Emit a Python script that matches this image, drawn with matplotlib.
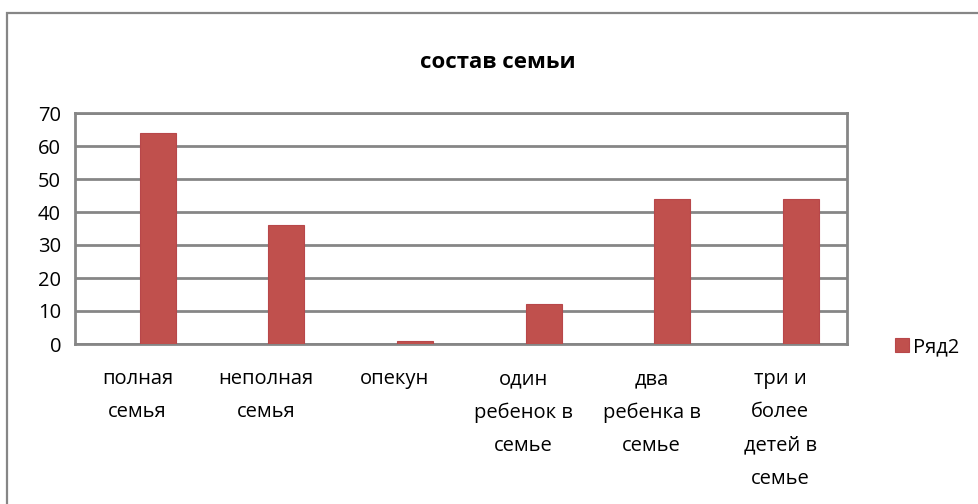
import matplotlib
matplotlib.use("Agg")
import matplotlib.pyplot as plt
from matplotlib.patches import Rectangle

categories = ["полная\nсемья", "неполная\nсемья", "опекун", "один\nребенок в\nсемье",
              "два\nребенка в\nсемье", "три и\nболее\nдетей в\nсемье"]
values = [64, 36, 1, 12, 44, 44]
series_name = "Ряд2"
title = "состав семьи"
yticks = [0, 10, 20, 30, 40, 50, 60, 70]

plt.rcParams['font.family'] = ['Open Sans', 'DejaVu Sans']
W, H = 979, 504
fig = plt.figure(figsize=(W / 100, H / 100), dpi=100)
grey = '#868686'
bar_color = '#C0504D'

# outer chart border (left and top visible)
fig.patches.append(Rectangle((7 / W, -0.1), 1.2, (H - 13) / H + 0.1, transform=fig.transFigure,
                             fill=False, edgecolor=grey, linewidth=1.6))

ax = fig.add_axes([75 / W, (H - 344) / H, (847 - 75) / W, (344 - 113) / H])
x = list(range(len(categories)))
ax.bar(x, values, width=0.28, color=bar_color, edgecolor='#B8474A', linewidth=0.8,
       label=series_name, zorder=3)
ax.set_xlim(-0.645, 5.36)
ax.set_ylim(0, 70)
ax.set_yticks(yticks)
ax.yaxis.grid(True, color=grey, linewidth=2, zorder=1)
ax.set_axisbelow(False)
for s in ax.spines.values():
    s.set_color(grey)
    s.set_linewidth(2)
ax.tick_params(length=0, labelsize=14.5, pad=10)
ax.set_xticks([i - 0.16 for i in x])
ax.set_xticklabels(categories, linespacing=1.88, va='top')
ax.tick_params(axis='x', pad=18)

fig.text(498 / W, 1 - 62 / H, title, ha='center', va='center', fontsize=16, fontweight='bold')

ax.legend(loc='center left', bbox_to_anchor=(877 / W, 1 - 347 / H), bbox_transform=fig.transFigure,
          frameon=False, fontsize=14.5, handlelength=0.7, handleheight=0.7, handletextpad=0.2)

fig.savefig('out.png', dpi=100, facecolor='white')
